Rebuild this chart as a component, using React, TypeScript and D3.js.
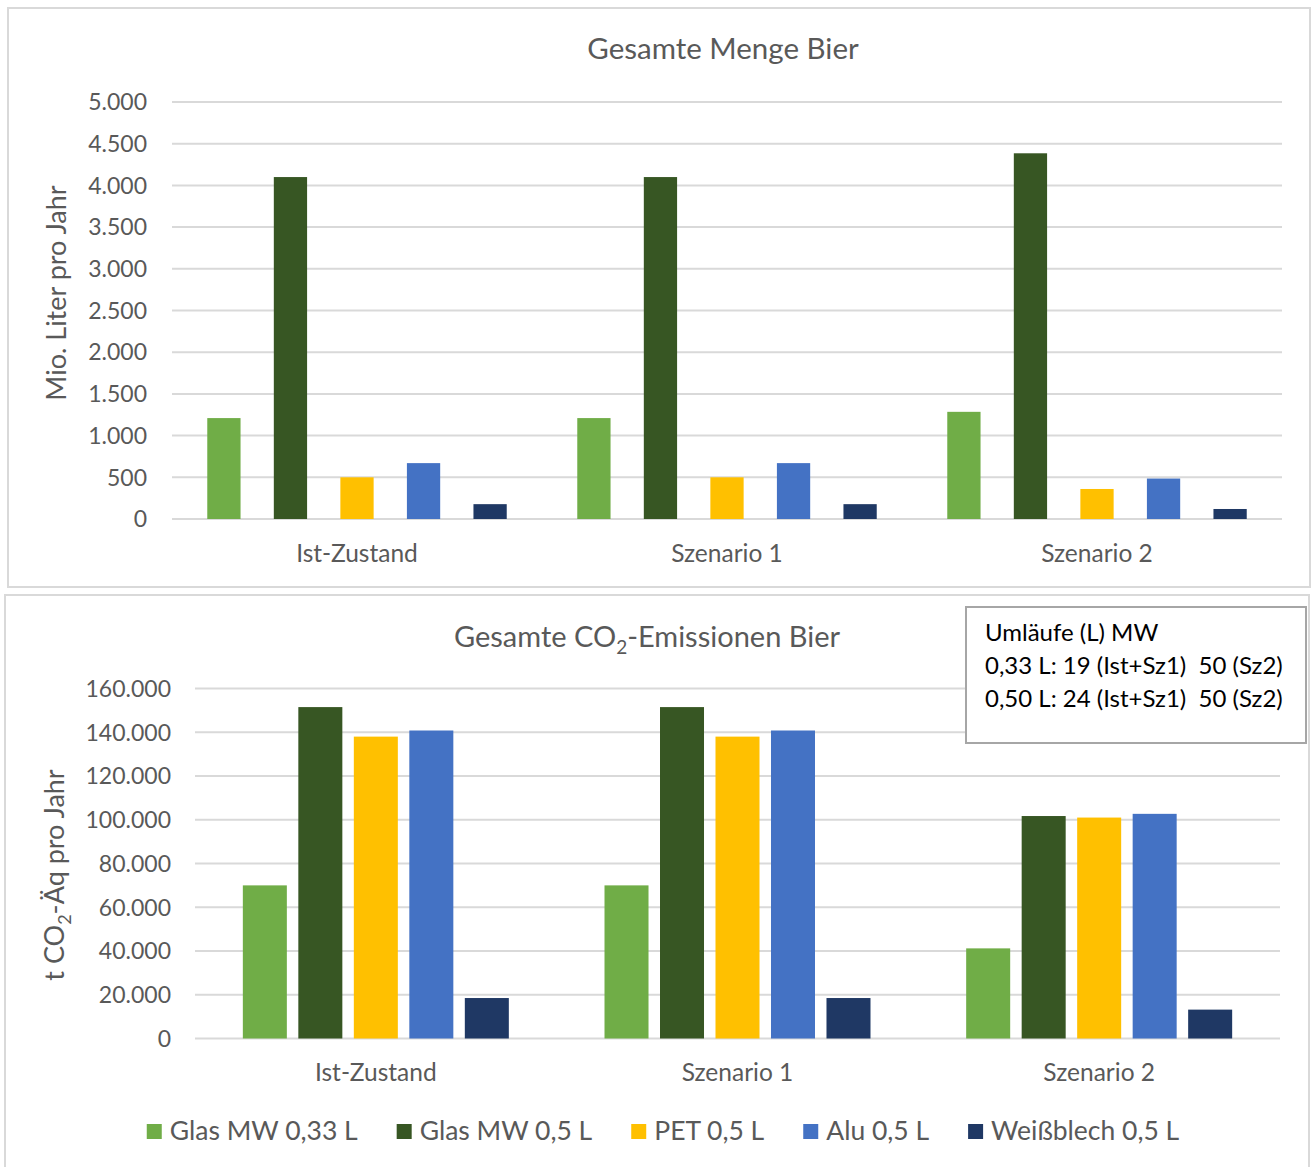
import { useRef, useEffect } from "react";
import * as d3 from "d3";

const FONT = "Lato, 'Open Sans', sans-serif";
const TEXT = "#595959";
const GRID = "#d9d9d9";
const W = 1311;
const H = 1167;

const categories = ["Ist-Zustand", "Szenario 1", "Szenario 2"];
const seriesNames = ["Glas MW 0,33 L", "Glas MW 0,5 L", "PET 0,5 L", "Alu 0,5 L", "Weißblech 0,5 L"];
const seriesColors = ["#70ad47", "#375623", "#ffc000", "#4472c4", "#1f3864"];

// Gesamte Menge Bier (Mio. Liter pro Jahr)
const mengeGlas033 = [1210, 1210, 1285];
const mengeGlas05 = [4100, 4100, 4385];
const mengePet = [500, 500, 360];
const mengeAlu = [670, 670, 485];
const mengeWeiss = [178, 178, 120];

// Gesamte CO2-Emissionen Bier (t CO2-Äq pro Jahr)
const co2Glas033 = [70000, 70000, 41200];
const co2Glas05 = [151500, 151500, 101700];
const co2Pet = [138000, 138000, 101000];
const co2Alu = [140800, 140800, 102700];
const co2Weiss = [18500, 18500, 13200];

const mengeTicks = d3.range(0, 5001, 500);
const co2Ticks = d3.range(0, 160001, 20000);

const noteLines = ["Umläufe (L) MW", "0,33 L: 19 (Ist+Sz1)  50 (Sz2)", "0,50 L: 24 (Ist+Sz1)  50 (Sz2)"];

const de = d3.formatLocale({ decimal: ",", thousands: ".", grouping: [3], currency: ["", " €"] });
const fmt = de.format(",d");

type Panel = {
  values: number[][];
  ticks: number[];
  xRange: [number, number];
  yRange: [number, number];
  padInner: number;
  padOuter: number;
  tickX: number;
  catY: number;
};

function drawBars(g: d3.Selection<SVGGElement, unknown, null, undefined>, p: Panel) {
  const x0 = d3.scaleBand().domain(categories).range(p.xRange).padding(0);
  const x1 = d3
    .scaleBand()
    .domain(seriesNames)
    .range([0, x0.bandwidth()])
    .paddingInner(p.padInner)
    .paddingOuter(p.padOuter);
  const y = d3
    .scaleLinear()
    .domain([0, p.ticks[p.ticks.length - 1]])
    .range(p.yRange);

  // grid + tick labels
  for (const t of p.ticks) {
    g.append("line")
      .attr("x1", p.xRange[0])
      .attr("x2", p.xRange[1])
      .attr("y1", y(t))
      .attr("y2", y(t))
      .attr("stroke", GRID)
      .attr("stroke-width", 2);
    g.append("text")
      .attr("x", p.tickX)
      .attr("y", y(t))
      .attr("dy", "0.36em")
      .attr("text-anchor", "end")
      .attr("fill", TEXT)
      .attr("font-family", FONT)
      .attr("font-size", 23)
      .text(fmt(t));
  }

  // bars
  categories.forEach((cat, ci) => {
    seriesNames.forEach((s, si) => {
      const v = p.values[si][ci];
      g.append("rect")
        .attr("x", x0(cat)! + x1(s)!)
        .attr("y", y(v))
        .attr("width", x1.bandwidth())
        .attr("height", y(0) - y(v))
        .attr("fill", seriesColors[si]);
    });
    g.append("text")
      .attr("x", x0(cat)! + x0.bandwidth() / 2)
      .attr("y", p.catY)
      .attr("text-anchor", "middle")
      .attr("fill", TEXT)
      .attr("font-family", FONT)
      .attr("font-size", 24.5)
      .text(cat);
  });
}

export default function App() {
  const svgRef = useRef<SVGSVGElement>(null);

  useEffect(() => {
    const svg = svgRef.current;
    if (!svg) return;
    const root = d3.select(svg);
    root.selectAll("*").remove();

    root.append("rect").attr("width", W).attr("height", H).attr("fill", "#fff");

    // ---------- top chart ----------
    const top = root.append("g");
    top.append("rect")
      .attr("x", 8)
      .attr("y", 8)
      .attr("width", 1302)
      .attr("height", 579)
      .attr("fill", "#fff")
      .attr("stroke", GRID)
      .attr("stroke-width", 2);

    top.append("text")
      .attr("x", 723)
      .attr("y", 59)
      .attr("text-anchor", "middle")
      .attr("fill", TEXT)
      .attr("font-family", FONT)
      .attr("font-size", 29.5)
      .text("Gesamte Menge Bier");

    top.append("text")
      .attr("transform", "translate(57,293) rotate(-90)")
      .attr("dy", "0.35em")
      .attr("text-anchor", "middle")
      .attr("fill", TEXT)
      .attr("font-family", FONT)
      .attr("font-size", 27)
      .text("Mio. Liter pro Jahr");

    drawBars(top, {
      values: [mengeGlas033, mengeGlas05, mengePet, mengeAlu, mengeWeiss],
      ticks: mengeTicks,
      xRange: [172, 1282],
      yRange: [519, 102],
      padInner: 0.5,
      padOuter: 0.53,
      tickX: 147,
      catY: 562,
    });

    // ---------- bottom chart ----------
    const bot = root.append("g");
    bot.append("rect")
      .attr("x", 5)
      .attr("y", 595)
      .attr("width", 1304)
      .attr("height", 575)
      .attr("fill", "#fff")
      .attr("stroke", GRID)
      .attr("stroke-width", 2);

    const title2 = bot.append("text")
      .attr("x", 647)
      .attr("y", 647)
      .attr("text-anchor", "middle")
      .attr("fill", TEXT)
      .attr("font-family", FONT)
      .attr("font-size", 29);
    title2.append("tspan").text("Gesamte CO");
    title2.append("tspan").attr("dy", 7).attr("font-size", 19).text("2");
    title2.append("tspan").attr("dy", -7).text("-Emissionen Bier");

    const ytitle2 = bot.append("text")
      .attr("transform", "translate(55,875) rotate(-90)")
      .attr("dy", "0.35em")
      .attr("text-anchor", "middle")
      .attr("fill", TEXT)
      .attr("font-family", FONT)
      .attr("font-size", 27);
    ytitle2.append("tspan").text("t CO");
    ytitle2.append("tspan").attr("dy", 7).attr("font-size", 18).text("2");
    ytitle2.append("tspan").attr("dy", -7).text("-Äq pro Jahr");

    drawBars(bot, {
      values: [co2Glas033, co2Glas05, co2Pet, co2Alu, co2Weiss],
      ticks: co2Ticks,
      xRange: [195, 1280],
      yRange: [1038.5, 688.5],
      padInner: 0.207,
      padOuter: 0.862,
      tickX: 171,
      catY: 1081,
    });

    // note box
    bot.append("rect")
      .attr("x", 966)
      .attr("y", 607)
      .attr("width", 340)
      .attr("height", 136)
      .attr("fill", "#fff")
      .attr("stroke", "#a6a6a6")
      .attr("stroke-width", 2);
    noteLines.forEach((line, i) => {
      bot.append("text")
        .attr("x", 985)
        .attr("y", 641 + i * 33)
        .attr("fill", "#000")
        .attr("font-family", FONT)
        .attr("font-size", 24)
        .style("white-space", "pre")
        .text(line);
    });

    // legend
    const legend = bot.append("g");
    const items = seriesNames.map((name, i) => {
      const it = legend.append("g");
      it.append("rect")
        .attr("width", 15)
        .attr("height", 15)
        .attr("y", 1124)
        .attr("fill", seriesColors[i]);
      const t = it.append("text")
        .attr("x", 23)
        .attr("y", 1140)
        .attr("fill", TEXT)
        .attr("font-family", FONT)
        .attr("font-size", 26.5)
        .text(name);
      const w = 23 + (t.node() as SVGTextElement).getComputedTextLength();
      return { it, w };
    });
    const gap = 39;
    const total = d3.sum(items, (d) => d.w) + gap * (items.length - 1);
    let cx = 663 - total / 2;
    for (const { it, w } of items) {
      it.attr("transform", `translate(${cx},0)`);
      cx += w + gap;
    }
  }, []);

  return (
    <svg
      ref={svgRef}
      width={W}
      height={H}
      style={{ position: "absolute", left: 0, top: 0, display: "block" }}
    />
  );
}
